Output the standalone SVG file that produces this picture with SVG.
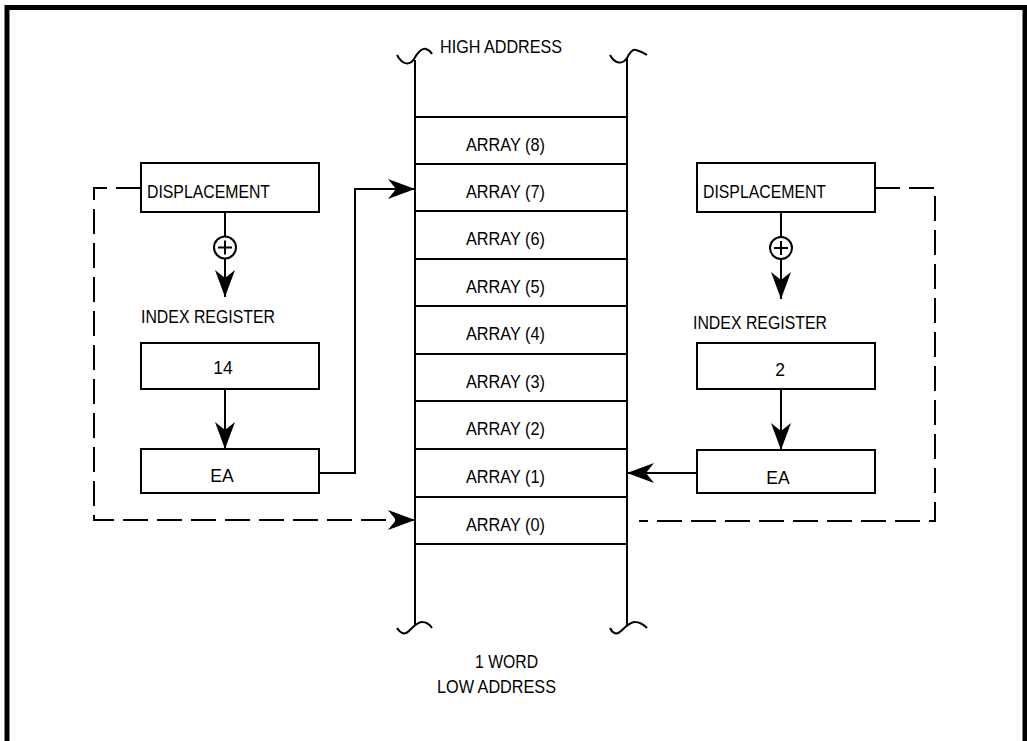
<svg xmlns="http://www.w3.org/2000/svg" width="1027" height="741" viewBox="0 0 1027 741">
<style>
text{font-family:"Liberation Sans",Arial,sans-serif;font-size:17.5px;fill:#000}
.box{fill:#fff;stroke:#000;stroke-width:2}
.ln{fill:none;stroke:#000;stroke-width:2}
.dash{fill:none;stroke:#000;stroke-width:2;stroke-dasharray:25 9}
.mid{text-anchor:middle}
</style>
<defs>
<marker id="ah" markerUnits="userSpaceOnUse" viewBox="-30 -12 32 24" refX="0" refY="0" markerWidth="32" markerHeight="24" orient="auto">
<path d="M0,0 L-27,-10 L-19,0 L-27,10 Z" fill="#000"/>
</marker>
</defs>
<rect width="1027" height="741" fill="#fff"/>
<path d="M7,741 V7.5 H1025 V741" fill="none" stroke="#000" stroke-width="5"/>

<g id="memory">
<path class="ln" d="M415,60 V625 M627,58 V625"/>
<path class="ln" d="M397,55 C403,66 410,65 414,59 C418,52 422,48 426,49 C429,50 431,52 432,54"/>
<path class="ln" d="M610,55 C615,64 622,65 627,58 C630,52 633,49 636,50 C640,51 644,53 647,55"/>
<path class="ln" d="M397,628 C401,634 405,635 409,631 C413,627 417,622 422,622 C426,622 430,625 432,628"/>
<path class="ln" d="M610,628 C613,634 617,635 621,631 C625,627 630,622 635,622 C640,622 644,625 647,628"/>
<path class="ln" d="M415,117 H627 M415,164 H627 M415,211 H627 M415,259 H627 M415,306 H627 M415,354 H627 M415,401 H627 M415,449 H627 M415,497 H627 M415,544 H627"/>
<text x="440" y="53" textLength="122" lengthAdjust="spacingAndGlyphs">HIGH ADDRESS</text>
<text x="466" y="151" textLength="79" lengthAdjust="spacingAndGlyphs">ARRAY (8)</text>
<text x="466" y="198" textLength="79" lengthAdjust="spacingAndGlyphs">ARRAY (7)</text>
<text x="466" y="245" textLength="79" lengthAdjust="spacingAndGlyphs">ARRAY (6)</text>
<text x="466" y="293" textLength="79" lengthAdjust="spacingAndGlyphs">ARRAY (5)</text>
<text x="466" y="340" textLength="79" lengthAdjust="spacingAndGlyphs">ARRAY (4)</text>
<text x="466" y="388" textLength="79" lengthAdjust="spacingAndGlyphs">ARRAY (3)</text>
<text x="466" y="435" textLength="79" lengthAdjust="spacingAndGlyphs">ARRAY (2)</text>
<text x="466" y="483" textLength="79" lengthAdjust="spacingAndGlyphs">ARRAY (1)</text>
<text x="466" y="531" textLength="79" lengthAdjust="spacingAndGlyphs">ARRAY (0)</text>
<text x="475" y="668" textLength="63" lengthAdjust="spacingAndGlyphs">1 WORD</text>
<text x="437" y="693" textLength="119" lengthAdjust="spacingAndGlyphs">LOW ADDRESS</text>
</g>

<g id="left-displacement">
<rect class="box" x="141" y="163" width="178" height="49"/>
<text x="147" y="198" textLength="123" lengthAdjust="spacingAndGlyphs">DISPLACEMENT</text>
</g>
<g id="left-index-label"><text x="141" y="323" textLength="134" lengthAdjust="spacingAndGlyphs">INDEX REGISTER</text></g>
<g id="left-index">
<rect class="box" x="141" y="343" width="178" height="46"/>
<text class="mid" x="223" y="374">14</text>
</g>
<g id="left-ea">
<rect class="box" x="141" y="449" width="178" height="44"/>
<text class="mid" x="222" y="482">EA</text>
</g>

<g id="right-displacement">
<rect class="box" x="697" y="163" width="178" height="49"/>
<text x="703" y="198" textLength="123" lengthAdjust="spacingAndGlyphs">DISPLACEMENT</text>
</g>
<g id="right-index-label"><text x="693" y="329" textLength="134" lengthAdjust="spacingAndGlyphs">INDEX REGISTER</text></g>
<g id="right-index">
<rect class="box" x="697" y="343" width="178" height="46"/>
<text class="mid" x="780" y="376">2</text>
</g>
<g id="right-ea">
<rect class="box" x="697" y="450" width="178" height="43"/>
<text class="mid" x="778" y="484">EA</text>
</g>

<g id="connectors">
<path class="ln" d="M225,212 V236"/>
<circle class="ln" cx="225" cy="247.5" r="11"/>
<path class="ln" d="M218,247.5 H232 M225,240.5 V254.5"/>
<path class="ln" d="M225,259 V297" marker-end="url(#ah)"/>
<path class="ln" d="M225,389 V449" marker-end="url(#ah)"/>
<path class="ln" d="M319,473 H355 V189 H415" marker-end="url(#ah)"/>
<path class="dash" d="M141,188 H94 V520 H415" marker-end="url(#ah)"/>

<path class="ln" d="M781,212 V237"/>
<circle class="ln" cx="781" cy="248" r="11"/>
<path class="ln" d="M774,248 H788 M781,241 V255"/>
<path class="ln" d="M781,259 V299" marker-end="url(#ah)"/>
<path class="ln" d="M781,389 V450" marker-end="url(#ah)"/>
<path class="ln" d="M697,473 H627" marker-end="url(#ah)"/>
<path class="dash" d="M875,188 H935 V521 H639"/>
</g>
</svg>
